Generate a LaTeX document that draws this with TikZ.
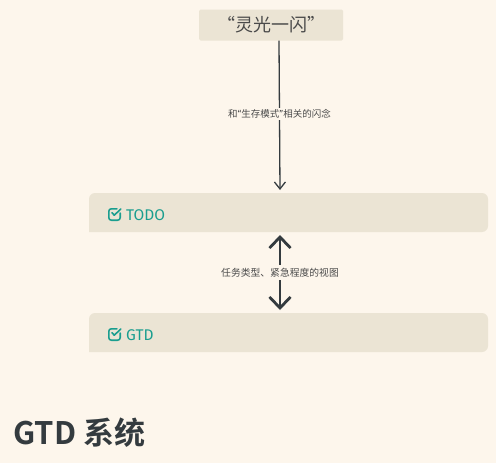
\documentclass[tikz,border=0pt]{standalone}
\usepackage{fontspec}
\setmainfont{Fira Sans}
\newfontfamily\cjk{Noto Sans CJK SC}
\newfontfamily\cjkbold{Noto Sans CJK SC Bold}
\usetikzlibrary{arrows.meta}
\definecolor{bgc}{HTML}{FDF6EC}
\definecolor{boxc}{HTML}{EBE4D4}
\definecolor{inkc}{HTML}{343B3F}
\definecolor{tealc}{HTML}{1A9E8F}
\definecolor{greyc}{HTML}{4A4A4A}
\tikzset{
  card/.style={fill=boxc, draw=none},
  lbl/.style={fill=bgc, inner sep=1.5pt, text=greyc, font=\cjk\fontsize{9.5}{11}\selectfont},
  conn/.style={draw=inkc, line width=1.3pt, -{Straight Barb[length=7pt,width=11pt,line width=1.3pt]}},
  biconn/.style={draw=inkc, line width=2.8pt, {Straight Barb[length=11pt,width=21pt,line width=2.8pt]}-{Straight Barb[length=11pt,width=21pt,line width=2.8pt]}},
  cardtxt/.style={text=tealc, anchor=west, font=\fontsize{15.5}{17}\selectfont, inner sep=0pt},
  chk/.style={draw=tealc, line width=1.6pt, line cap=round, line join=round},
}
\newcommand{\checkicon}[1]{%
  \begin{scope}[shift={(#1)}]
    \draw[chk, rounded corners=2.5pt] (9,0.8) -- (0.8,0.8) -- (0.8,12.2) -- (12.2,12.2) -- (12.2,5);
    \draw[chk] (4,4.8) -- (6.3,7.2) -- (12.8,1);
  \end{scope}}
\newcommand{\latinq}[1]{{\rmfamily #1}}
\begin{document}
\begin{tikzpicture}[x=1pt,y=-1pt]
\fill[bgc] (0,0) rectangle (496,463);
\useasboundingbox (0,0) rectangle (496,463);
% top box
\node[card, minimum width=144pt, minimum height=31pt, rounded corners=1.5pt, inner sep=0pt,
  text=greyc, font=\cjk\fontsize{18}{20}\selectfont] (flash) at (271,25) {“灵光一闪”};
% TODO card
\fill[boxc, rounded corners=6pt] (89,232) -- (89,193) -- (488,193) -- (488,232) [sharp corners] -- cycle;
\coordinate (todoTop) at (280,190);
\coordinate (todoBot) at (280,235);
\checkicon{108,208}
\node[cardtxt] (todo) at (126,215) {TODO};
% GTD card
\fill[boxc, rounded corners=6pt] (89,352) -- (89,313) -- (488,313) -- (488,352) [sharp corners] -- cycle;
\coordinate (gtdTop) at (280,310);
\checkicon{108,328}
\node[cardtxt] (gtd) at (126,335) {GTD};
% connectors
\draw[conn] (flash.south -| 279,0) -- (todoTop)
  node[lbl, pos=0.49] (l1) {和\latinq{“}生存模式\latinq{”}相关的闪念};
\draw[biconn] (todoBot) -- (gtdTop)
  node[lbl, pos=0.5, inner sep=3pt, font=\cjk\fontsize{9.8}{11}\selectfont] (l2) {任务类型、紧急程度的视图};
% title
\node[anchor=west, inner sep=0pt, text=inkc, font=\cjkbold\fontsize{31}{33}\selectfont] (title) at (13,433) {GTD 系统};
\end{tikzpicture}
\end{document}
